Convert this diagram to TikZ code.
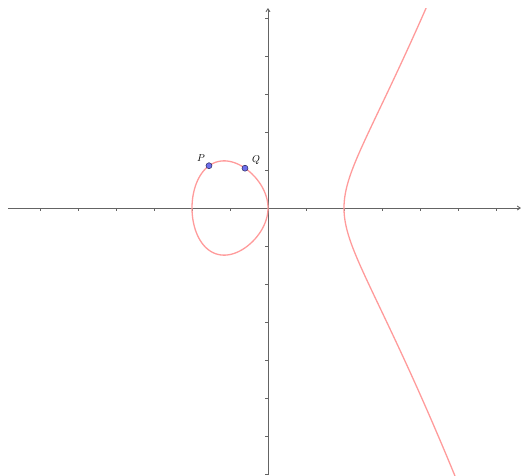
\documentclass[tikz,border=0pt]{standalone}
\usetikzlibrary{arrows.meta}
\definecolor{curvecol}{RGB}{255,155,155}
\definecolor{axiscol}{RGB}{100,100,100}
\definecolor{ptfill}{RGB}{110,110,235}
\definecolor{ptdraw}{RGB}{40,40,90}
\begin{document}
\begin{tikzpicture}[x=1pt,y=1pt,
  axis/.style={axiscol,line width=0.9pt,-{Straight Barb[length=3pt,width=4pt]}},
  tick/.style={axiscol,line width=0.7pt},
  curve/.style={curvecol,line width=1.3pt},
  pt/.style={circle,fill=ptfill,draw=ptdraw,line width=0.5pt,inner sep=0pt,minimum size=6pt},
  lbl/.style={font=\fontsize{10}{10}\selectfont,inner sep=0pt}]
\useasboundingbox (-268,-267) rectangle (255,208);
% axes
\coordinate (xl) at (-260,0);
\coordinate (xr) at (253,0);
\coordinate (yb) at (0,-267);
\coordinate (yt) at (0,200);
\draw[axis] (xl) -- (xr);
\draw[axis] (yb) -- (yt);
% ticks
\foreach \k in {-6,...,-1,1,2,...,6}
  \draw[tick] (\k*38,0) -- (\k*38,-2.5);
\foreach \k in {-7,...,-1,1,2,...,5}
  \draw[tick] (0,\k*38) -- (-2.5,\k*38);
% curve y^2 = x^3 - x (unit 76)
\begin{scope}
\clip (-268,-267) rectangle (255,200);
\draw[curve,smooth] plot[domain=0:180,samples=120,variable=\t]
  ({-76*sin(\t)^2},{76*sin(\t)*cos(\t)*sqrt(1+sin(\t)^2)}) -- cycle;
\draw[curve,smooth] plot[domain=-1.25:1.1,samples=120,variable=\s]
  ({76*(1+\s*\s)},{76*\s*sqrt((1+\s*\s)*(2+\s*\s))});
\end{scope}
% points
\node[pt] (P) at (-59,42.3) {};
\node[pt] (Q) at (-23,39.8) {};
\node[lbl] (Plbl) at (-67,50) {$P$};
\node[lbl] (Qlbl) at (-12,48) {$Q$};
\end{tikzpicture}
\end{document}
